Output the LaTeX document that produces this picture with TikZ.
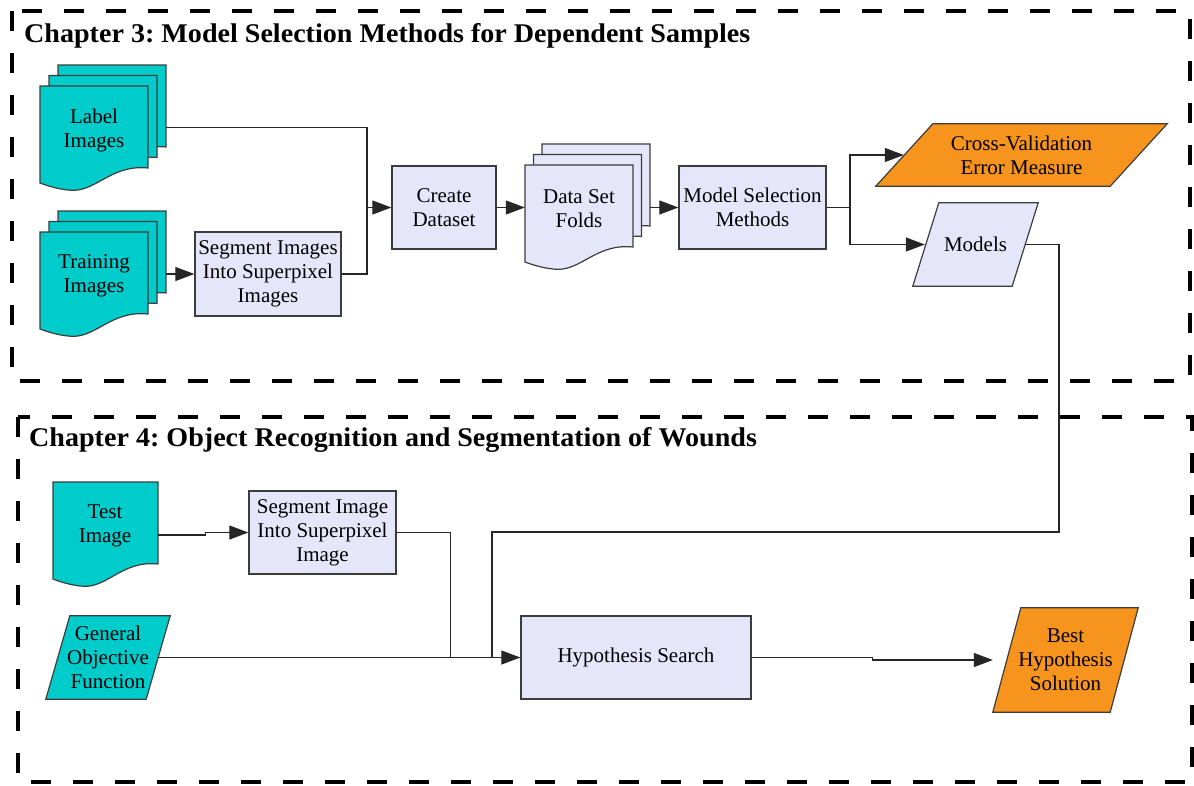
\documentclass[tikz,border=0pt]{standalone}
\usepackage{fontspec}
\setmainfont{Liberation Serif}
\newfontfamily\titlefam[FakeStretch=1.04]{Liberation Serif}
\usetikzlibrary{arrows.meta,backgrounds}
\frenchspacing

\definecolor{tealfill}{RGB}{0,204,204}
\definecolor{lavfill}{RGB}{230,230,250}
\definecolor{orangefill}{RGB}{247,148,29}
\definecolor{edgegray}{RGB}{60,60,60}

\newcommand\bodyfnt{\fontsize{21}{24}\selectfont}
\newcommand\titlefnt{\titlefam\fontsize{27}{30}\selectfont\bfseries}

% one document sheet with a wavy lower edge; #1,#2 top-left, #3 width, #4 fill
\newcommand\docsheet[4]{%
  \begin{scope}[shift={(#1,#2)}, xscale=#3/108]
    \filldraw[sheetline, fill=#4] (0,0) -- (108,0) -- (108,82)
      .. controls (70,78) and (55,108) .. (28,104)
      .. controls (18,103) and (8,100) .. (0,97) -- cycle;
  \end{scope}}

% parallelogram behind a node #1: top edge shifted right by #2, fill #3
\newcommand\slantbox[3]{%
  \begin{pgfonlayer}{background}
    \filldraw[sheetline, fill=#3] ([xshift=#2]#1.north west) -- (#1.north east)
      -- ([xshift=-#2]#1.south east) -- (#1.south west) -- cycle;
  \end{pgfonlayer}}

\begin{document}
\begin{tikzpicture}[x=1pt, y=-1pt,
  frame/.style={line width=4pt, dash pattern=on 20pt off 22pt, black},
  sheetline/.style={draw=edgegray, line width=1.2pt},
  proc/.style={rectangle, draw=edgegray, line width=1.3pt, fill=lavfill,
    align=center, font=\bodyfnt, inner sep=0pt},
  para/.style={rectangle, draw=none, align=center, font=\bodyfnt, inner sep=0pt},
  txt/.style={align=center, font=\bodyfnt, inner sep=0pt},
  bbox/.style={rectangle, draw=none, inner sep=0pt},
  conn/.style={line width=1.1pt, draw=black!85},
  arr/.style={conn, -{Triangle[length=19pt,width=14pt]}},
  title/.style={anchor=west, font=\titlefnt, inner sep=0pt}
]
\useasboundingbox (0,0) rectangle (1194,785);

% chapter frames
\draw[frame] (12,11) rectangle (1190,381);
\draw[frame] (18,417) rectangle (1192,782);

\node[title] (t3) at (24,36) {Chapter 3: Model Selection Methods for Dependent Samples};
\node[title] (t4) at (29,440) {Chapter 4: Object Recognition and Segmentation of Wounds};

% ---- Chapter 3 ----
% label images stack
\docsheet{58}{65}{108}{tealfill}
\docsheet{49}{75.5}{108}{tealfill}
\docsheet{40}{86}{108}{tealfill}
\node[txt] (lbltxt) at (94,130) {Label\\Images};
\node[bbox, minimum width=126pt, minimum height=125pt] (lbl) at (103,127.5) {};

% training images stack
\docsheet{58}{211}{108}{tealfill}
\docsheet{49}{221.5}{108}{tealfill}
\docsheet{40}{232}{108}{tealfill}
\node[txt] (trntxt) at (94,276) {Training\\Images};
\node[bbox, minimum width=126pt, minimum height=125pt] (trn) at (103,274) {};

\node[proc, minimum width=146pt, minimum height=84pt] (seg) at (268,274)
  {Segment Images\\Into Superpixel\\Images};

\node[proc, minimum width=104pt, minimum height=83pt] (cd) at (444,207.5)
  {Create\\Dataset};

% data set folds stack
\docsheet{542}{144}{108}{lavfill}
\docsheet{533.5}{154.5}{108}{lavfill}
\docsheet{525}{165}{108}{lavfill}
\node[txt] (dsftxt) at (579,209) {Data Set\\Folds};
\node[bbox, minimum width=125pt, minimum height=125pt] (dsf) at (587.5,207.5) {};

\node[proc, minimum width=147pt, minimum height=83pt] (ms) at (752.5,207.5)
  {Model Selection\\Methods};

\node[para, minimum width=291pt, minimum height=62pt] (cv) at (1021.5,155)
  {Cross-Validation\\Error Measure};
\slantbox{cv}{57pt}{orangefill}

\node[para, minimum width=125pt, minimum height=83pt] (mod) at (975.5,244.5)
  {Models};
\slantbox{mod}{26pt}{lavfill}

% ---- Chapter 4 ----
\docsheet{53}{482}{105}{tealfill}
\node[txt] (testtxt) at (105,526) {Test\\Image};
\node[bbox, minimum width=105pt, minimum height=104pt] (test) at (105.5,535) {};

\node[proc, minimum width=147pt, minimum height=83pt] (segi) at (322.5,532.5)
  {Segment Image\\Into Superpixel\\Image};

\node[para, minimum width=124pt, minimum height=83pt] (gen) at (108,657.5)
  {General\\Objective\\Function};
\slantbox{gen}{24pt}{tealfill}

\node[proc, minimum width=230pt, minimum height=83pt] (hyp) at (636,657.5)
  {Hypothesis Search};

\node[para, minimum width=145pt, minimum height=104pt] (best) at (1065.5,660)
  {Best\\Hypothesis\\Solution};
\slantbox{best}{28pt}{orangefill}

% ---- connectors ----
\coordinate (j1) at (367,207.5);
\draw[conn] (lbl.east) -| (j1);
\draw[conn] (seg.east) -| (j1);
\draw[arr] (j1) -- (cd.west);
\draw[arr] (trn.east) -- (seg.west);
\draw[arr] (cd.east) -- (cd.east -| dsf.west);
\draw[arr] (dsf.east |- ms.west) -- (ms.west);

\coordinate (j2) at (850,207.5);
\draw[conn] (ms.east) -- (j2);
\draw[arr] (j2) |- ([xshift=28pt]cv.west);
\draw[arr] (j2) |- ([xshift=12pt]mod.west);

\coordinate (m1) at (1059,532);
\coordinate (m2) at (492,532);
\draw[conn] ([xshift=-13pt]mod.east) -| (m1) -- (m2) |- (hyp.west);

\draw[arr] (test.east) -- ++(47,0) |- (segi.west);
\draw[conn] (segi.east) -| ([xshift=-70pt]hyp.west);
\draw[arr] ([xshift=-12pt]gen.east) -- (hyp.west);
\draw[arr] (hyp.east) -- ++(121,0) |- (best.west);
\end{tikzpicture}
\end{document}
